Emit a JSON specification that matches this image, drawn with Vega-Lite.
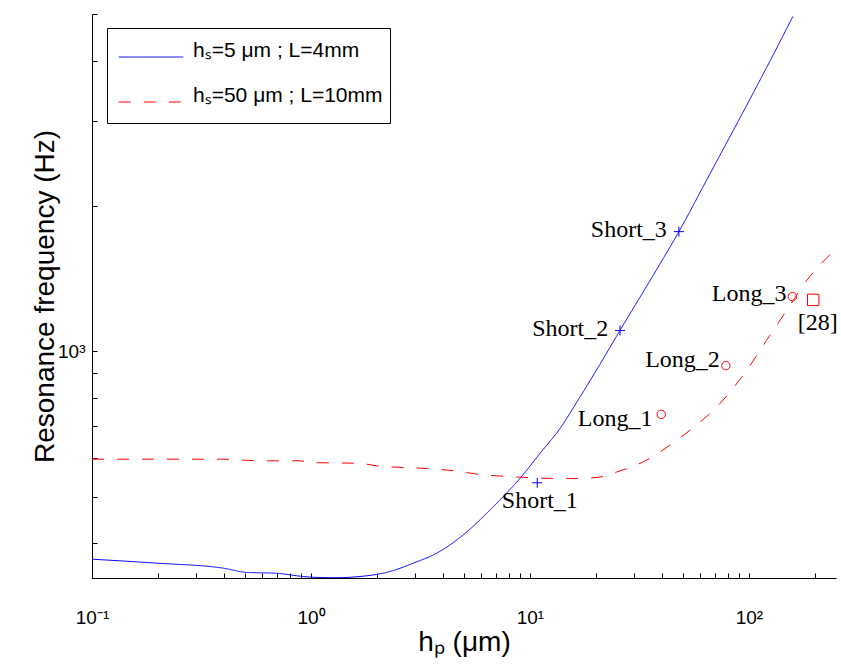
{
  "$schema": "https://vega.github.io/schema/vega-lite/v6.json",
  "width": 744,
  "height": 564,
  "autosize": {"type": "none"},
  "padding": {"left": 92, "top": 14, "right": 5, "bottom": 88},
  "background": "white",
  "config": {
    "view": {"stroke": null},
    "font": "Liberation Sans",
    "axis": {
      "grid": false,
      "domainColor": "#000000",
      "domainWidth": 1,
      "tickColor": "#000000",
      "tickWidth": 1,
      "tickSize": -5,
      "labelColor": "#000000",
      "labelFont": "Liberation Sans",
      "labelFontSize": 19,
      "labelOverlap": false,
      "labelFlush": false,
      "titleColor": "#000000",
      "titleFont": "Liberation Sans",
      "titleFontWeight": "normal",
      "titleFontSize": 28
    }
  },
  "datasets": {
    "curves": [
      {"series": "hₛ=5 μm ; L=4mm", "x": 0.1, "y": 370.8},
      {"series": "hₛ=5 μm ; L=4mm", "x": 0.1974, "y": 363.9},
      {"series": "hₛ=5 μm ; L=4mm", "x": 0.3976, "y": 355.3},
      {"series": "hₛ=5 μm ; L=4mm", "x": 0.5085, "y": 348.2},
      {"series": "hₛ=5 μm ; L=4mm", "x": 0.697, "y": 346.7},
      {"series": "hₛ=5 μm ; L=4mm", "x": 0.891, "y": 342.0},
      {"series": "hₛ=5 μm ; L=4mm", "x": 1.0, "y": 340.4},
      {"series": "hₛ=5 μm ; L=4mm", "x": 1.287, "y": 339.5},
      {"series": "hₛ=5 μm ; L=4mm", "x": 1.796, "y": 342.6},
      {"series": "hₛ=5 μm ; L=4mm", "x": 2.294, "y": 349.6},
      {"series": "hₛ=5 μm ; L=4mm", "x": 2.932, "y": 363.9},
      {"series": "hₛ=5 μm ; L=4mm", "x": 3.75, "y": 381.6},
      {"series": "hₛ=5 μm ; L=4mm", "x": 4.96, "y": 416.4},
      {"series": "hₛ=5 μm ; L=4mm", "x": 6.8, "y": 476.4},
      {"series": "hₛ=5 μm ; L=4mm", "x": 9.0, "y": 545.2},
      {"series": "hₛ=5 μm ; L=4mm", "x": 11.11, "y": 614.1},
      {"series": "hₛ=5 μm ; L=4mm", "x": 13.71, "y": 691.6},
      {"series": "hₛ=5 μm ; L=4mm", "x": 16.92, "y": 803.8},
      {"series": "hₛ=5 μm ; L=4mm", "x": 20.87, "y": 939.1},
      {"series": "hₛ=5 μm ; L=4mm", "x": 25.76, "y": 1104},
      {"series": "hₛ=5 μm ; L=4mm", "x": 35.31, "y": 1400},
      {"series": "hₛ=5 μm ; L=4mm", "x": 48.41, "y": 1785},
      {"series": "hₛ=5 μm ; L=4mm", "x": 66.35, "y": 2330},
      {"series": "hₛ=5 μm ; L=4mm", "x": 90.95, "y": 3042},
      {"series": "hₛ=5 μm ; L=4mm", "x": 124.7, "y": 3990},
      {"series": "hₛ=5 μm ; L=4mm", "x": 158.8, "y": 4941},
      {"series": "hₛ=50 μm ; L=10mm", "x": 0.1, "y": 597.6},
      {"series": "hₛ=50 μm ; L=10mm", "x": 0.396, "y": 597.6},
      {"series": "hₛ=50 μm ; L=10mm", "x": 0.585, "y": 593.0},
      {"series": "hₛ=50 μm ; L=10mm", "x": 0.891, "y": 593.0},
      {"series": "hₛ=50 μm ; L=10mm", "x": 0.99, "y": 588.4},
      {"series": "hₛ=50 μm ; L=10mm", "x": 1.674, "y": 585.7},
      {"series": "hₛ=50 μm ; L=10mm", "x": 1.995, "y": 579.0},
      {"series": "hₛ=50 μm ; L=10mm", "x": 3.75, "y": 570.0},
      {"series": "hₛ=50 μm ; L=10mm", "x": 4.63, "y": 564.6},
      {"series": "hₛ=50 μm ; L=10mm", "x": 5.71, "y": 556.6},
      {"series": "hₛ=50 μm ; L=10mm", "x": 8.39, "y": 549.5},
      {"series": "hₛ=50 μm ; L=10mm", "x": 13.7, "y": 545.0},
      {"series": "hₛ=50 μm ; L=10mm", "x": 16.9, "y": 545.2},
      {"series": "hₛ=50 μm ; L=10mm", "x": 20.9, "y": 548.8},
      {"series": "hₛ=50 μm ; L=10mm", "x": 24.9, "y": 562.0},
      {"series": "hₛ=50 μm ; L=10mm", "x": 34.1, "y": 594.9},
      {"series": "hₛ=50 μm ; L=10mm", "x": 43.6, "y": 638.9},
      {"series": "hₛ=50 μm ; L=10mm", "x": 53.8, "y": 686.1},
      {"series": "hₛ=50 μm ; L=10mm", "x": 73.7, "y": 779.0},
      {"series": "hₛ=50 μm ; L=10mm", "x": 97.6, "y": 912.6},
      {"series": "hₛ=50 μm ; L=10mm", "x": 120.4, "y": 1053},
      {"series": "hₛ=50 μm ; L=10mm", "x": 148.6, "y": 1214},
      {"series": "hₛ=50 μm ; L=10mm", "x": 183.4, "y": 1400},
      {"series": "hₛ=50 μm ; L=10mm", "x": 250, "y": 1631}
    ],
    "short": [
      {"name": "Short_1", "x": 10.8, "y": 534},
      {"name": "Short_2", "x": 25.8, "y": 1104},
      {"name": "Short_3", "x": 47.9, "y": 1770}
    ],
    "long": [
      {"name": "Long_1", "x": 39.8, "y": 740},
      {"name": "Long_2", "x": 78.5, "y": 934},
      {"name": "Long_3", "x": 158, "y": 1298}
    ],
    "ref": [
      {"name": "[28]", "x": 196.7, "y": 1278}
    ],
    "labelsRight": [
      {"text": "Short_3", "x": 42.2, "y": 1727},
      {"text": "Short_2", "x": 22.8, "y": 1078},
      {"text": "Long_3", "x": 148.6, "y": 1270},
      {"text": "Long_2", "x": 73.7, "y": 927},
      {"text": "Long_1", "x": 36.3, "y": 699}
    ],
    "labelsCenter": [
      {"text": "Short_1", "x": 11.1, "y": 472.8},
      {"text": "[28]", "x": 206.5, "y": 1109}
    ]
  },
  "encoding": {
    "x": {
      "field": "x",
      "type": "quantitative",
      "scale": {"type": "log", "domain": [0.1, 250], "nice": false, "zero": false},
      "axis": {
        "values": [0.1, 0.2, 0.3, 0.4, 0.5, 0.6, 0.7, 0.8, 0.9, 1, 2, 3, 4, 5, 6, 7, 8, 9, 10, 20, 30, 40, 50, 60, 70, 80, 90, 100, 200],
        "labelExpr": "datum.value == 0.1 ? '10⁻¹' : datum.value == 1 ? '10⁰' : datum.value == 10 ? '10¹' : datum.value == 100 ? '10²' : ''",
        "labelPadding": 35,
        "labelBaseline": "top",
        "title": "hₚ (μm)",
        "titleX": 372,
        "titleY": 72,
        "titleAlign": "center",
        "titleBaseline": "alphabetic"
      }
    },
    "y": {
      "field": "y",
      "type": "quantitative",
      "scale": {"type": "log", "domain": [339, 5000], "nice": false, "zero": false},
      "axis": {
        "values": [400, 500, 600, 700, 800, 900, 1000, 2000, 3000, 4000, 5000],
        "labelExpr": "datum.value == 1000 ? '10³' : ''",
        "labelPadding": 12,
        "title": "Resonance frequency (Hz)",
        "titleX": -47,
        "titleY": 282,
        "titleAngle": -90,
        "titleAlign": "center",
        "titleBaseline": "middle"
      }
    }
  },
  "layer": [
    {
      "data": {"name": "curves"},
      "mark": {"type": "line", "strokeWidth": 1, "interpolate": "monotone"},
      "encoding": {
        "color": {
          "field": "series",
          "type": "nominal",
          "scale": {"domain": ["hₛ=5 μm ; L=4mm", "hₛ=50 μm ; L=10mm"], "range": ["#0000ff", "#ff0000"]},
          "legend": {
            "title": " ",
            "titleOrient": "bottom",
            "titleFontSize": 4,
            "titlePadding": 6,
            "orient": "none",
            "legendX": 15,
            "legendY": 14,
            "symbolType": "M-1.5,0H1.5",
            "symbolSize": 1849,
            "symbolStrokeWidth": 1,
            "labelFont": "Liberation Sans",
            "labelFontSize": 21,
            "labelColor": "#000000",
            "labelBaseline": "alphabetic",
            "labelLimit": 0,
            "padding": 7,
            "rowPadding": 19,
            "symbolOffset": 15,
            "labelOffset": 20,
            "strokeColor": "#000000",
            "fillColor": "#ffffff"
          }
        },
        "strokeDash": {
          "field": "series",
          "type": "nominal",
          "scale": {"domain": ["hₛ=5 μm ; L=4mm", "hₛ=50 μm ; L=10mm"], "range": [[1, 0], [12, 13]]},
          "legend": {
            "title": " ",
            "titleOrient": "bottom",
            "titleFontSize": 4,
            "titlePadding": 6,
            "orient": "none",
            "legendX": 15,
            "legendY": 14,
            "symbolType": "M-1.5,0H1.5",
            "symbolSize": 1849,
            "symbolStrokeWidth": 1,
            "labelFont": "Liberation Sans",
            "labelFontSize": 21,
            "labelColor": "#000000",
            "labelBaseline": "alphabetic",
            "labelLimit": 0,
            "padding": 7,
            "rowPadding": 19,
            "symbolOffset": 15,
            "labelOffset": 20,
            "strokeColor": "#000000",
            "fillColor": "#ffffff"
          }
        }
      }
    },
    {
      "data": {"name": "short"},
      "mark": {"type": "point", "shape": "M-1,0H1M0,-1V1", "size": 100, "filled": false, "stroke": "#0000ff", "strokeWidth": 1, "opacity": 1}
    },
    {
      "data": {"name": "long"},
      "mark": {"type": "point", "shape": "circle", "size": 71, "filled": false, "stroke": "#ff0000", "strokeWidth": 1, "opacity": 1}
    },
    {
      "data": {"name": "ref"},
      "mark": {"type": "point", "shape": "square", "size": 130, "filled": false, "stroke": "#ff0000", "strokeWidth": 1, "opacity": 1}
    },
    {
      "data": {"name": "labelsRight"},
      "mark": {"type": "text", "align": "right", "baseline": "alphabetic", "font": "Liberation Serif", "fontSize": 24, "color": "#000000"},
      "encoding": {"text": {"field": "text", "type": "nominal"}}
    },
    {
      "data": {"name": "labelsCenter"},
      "mark": {"type": "text", "align": "center", "baseline": "alphabetic", "font": "Liberation Serif", "fontSize": 24, "color": "#000000"},
      "encoding": {"text": {"field": "text", "type": "nominal"}}
    }
  ]
}
